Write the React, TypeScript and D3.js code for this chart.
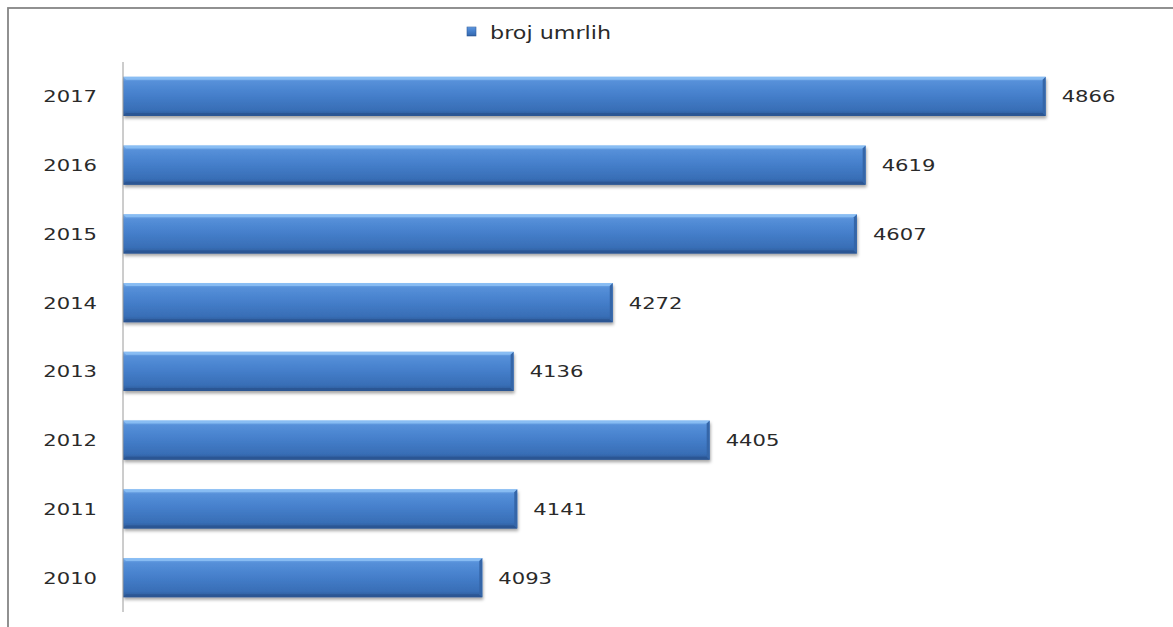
import React from "react";
import * as d3 from "d3";

const years = ["2017", "2016", "2015", "2014", "2013", "2012", "2011", "2010"];
const deaths = [4866, 4619, 4607, 4272, 4136, 4405, 4141, 4093];
const seriesName = "broj umrlih";

const W = 1173;
const H = 627;
const axisX = 123;
const top = 62;
const bottom = 612;
const FONT = "DejaVu Sans, sans-serif";
const SX = 1.28;

export default function App() {
  const x = d3.scaleLinear().domain([3600, 5000]).range([axisX, axisX + 0.7288 * 1400]);
  const y = d3.scaleBand<string>().domain(years).range([top, bottom]).paddingInner(0.43).paddingOuter(0.215);
  const b = 3;
  const bars = years.map((yr, i) => ({ yr, v: deaths[i] }));

  return (
    <svg width={W} height={H} style={{ position: "absolute", left: 0, top: 0 }}>
      <defs>
        <linearGradient id="barGrad" x1="0" y1="0" x2="0" y2="1">
          <stop offset="0" stopColor="#80b4ef" />
          <stop offset="0.12" stopColor="#5690d9" />
          <stop offset="0.45" stopColor="#4680cc" />
          <stop offset="0.85" stopColor="#386eb6" />
          <stop offset="1" stopColor="#2c5894" />
        </linearGradient>
        <filter id="shadow" x="-5%" y="-20%" width="110%" height="160%">
          <feDropShadow dx="1" dy="2.5" stdDeviation="1.6" floodColor="#000" floodOpacity="0.35" />
        </filter>
      </defs>
      <rect x={0} y={0} width={W} height={H} fill="#fff" />
      <rect x={8} y={8} width={1300} height={800} fill="#fff" stroke="#858585" strokeWidth={1.8} />

      {/* legend */}
      <g>
        <rect x={467} y={27} width={9} height={9} fill="url(#barGrad)" stroke="#2f5c9c" strokeWidth={0.6} />
        <text
          transform={`translate(490,39) scale(${SX},1)`}
          fontFamily={FONT}
          fontSize={17.4}
          fill="#2a2a2a"
        >
          {seriesName}
        </text>
      </g>

      {/* bars */}
      {bars.map((d) => {
        const x0 = x(3600);
        const x1 = x(d.v);
        const y0 = y(d.yr)!;
        const h = y.bandwidth();
        const y1 = y0 + h;
        return (
          <g key={d.yr}>
            <rect x={x0} y={y0} width={x1 - x0} height={h} fill="url(#barGrad)" filter="url(#shadow)" />
            <polygon
              points={`${x0},${y0} ${x1},${y0} ${x1 - b},${y0 + b} ${x0 + b},${y0 + b}`}
              fill="#8cc0f5"
              opacity={0.85}
            />
            <polygon
              points={`${x0},${y1} ${x1},${y1} ${x1 - b},${y1 - b} ${x0 + b},${y1 - b}`}
              fill="#2a5592"
              opacity={0.85}
            />
            <polygon
              points={`${x1},${y0} ${x1},${y1} ${x1 - b},${y1 - b} ${x1 - b},${y0 + b}`}
              fill="#3566a8"
            />
            <text
              transform={`translate(${x1 + 16},${y0 + h / 2 + 6}) scale(${SX},1)`}
              fontFamily={FONT}
              fontSize={16.5}
              fill="#2a2a2a"
            >
              {d.v}
            </text>
            <text
              transform={`translate(97,${y0 + h / 2 + 6}) scale(${SX},1)`}
              fontFamily={FONT}
              fontSize={16.5}
              fill="#2a2a2a"
              textAnchor="end"
            >
              {d.yr}
            </text>
          </g>
        );
      })}

      <line x1={axisX} x2={axisX} y1={top} y2={bottom} stroke="#9a9a9a" strokeWidth={1} />
    </svg>
  );
}
